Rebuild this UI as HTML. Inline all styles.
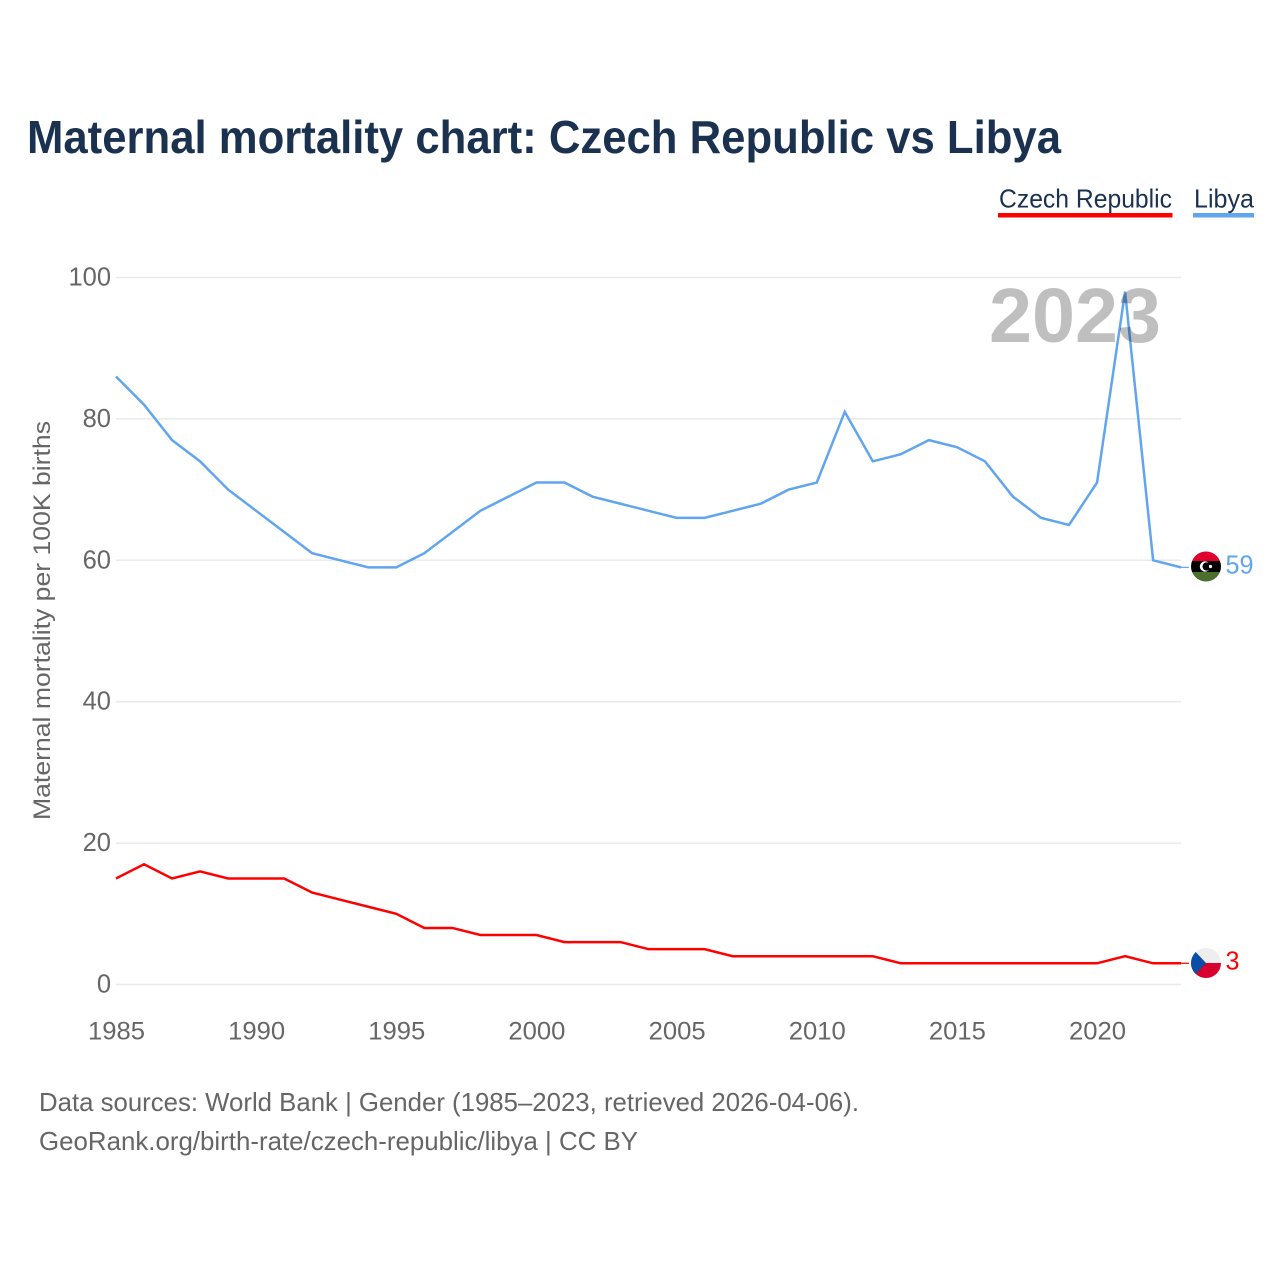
<!DOCTYPE html>
<html lang="en">
<head>
<meta charset="utf-8">
<title>Maternal mortality chart: Czech Republic vs Libya</title>
<style>
html,body{margin:0;padding:0;background:#fff;width:1280px;height:1280px;overflow:hidden}
svg{display:block;font-family:"Liberation Sans",sans-serif}
</style>
</head>
<body>
<svg id="chart" width="1280" height="1280" viewBox="0 0 1280 1280" xmlns="http://www.w3.org/2000/svg">
  <rect width="1280" height="1280" fill="#fff"/>
  <text x="27" y="153" font-size="46" font-weight="700" fill="#1a3150" textLength="1034" lengthAdjust="spacingAndGlyphs">Maternal mortality chart: Czech Republic vs Libya</text>

  <g>
    <text x="999" y="207.5" font-size="26" fill="#1a3150" textLength="173" lengthAdjust="spacingAndGlyphs">Czech Republic</text>
    <rect x="998" y="213" width="174.5" height="4.5" fill="#ff0000"/>
  </g>
  <g>
    <text x="1194" y="207.5" font-size="26" fill="#1a3150" textLength="60" lengthAdjust="spacingAndGlyphs">Libya</text>
    <rect x="1193" y="213" width="61" height="4.5" fill="#60a5ee"/>
  </g>

  <g id="grid"></g>
  <g id="yticks"></g>
  <g id="xticks"></g>
  <text transform="translate(50,620.5) rotate(-90)" text-anchor="middle" font-size="24.5" fill="#666" textLength="399" lengthAdjust="spacingAndGlyphs">Maternal mortality per 100K births</text>

  <g id="series"></g>

  <text id="year" x="989" y="342" font-size="77" font-weight="700" fill="#000" fill-opacity="0.25" textLength="172" lengthAdjust="spacingAndGlyphs">2023</text>

  <defs>
    <clipPath id="clip-libya"><circle cx="1206" cy="566.5" r="15"/></clipPath>
    <clipPath id="clip-czech"><circle cx="1206" cy="963" r="15"/></clipPath>
  </defs>
  <g clip-path="url(#clip-libya)">
    <rect x="1190" y="551" width="32" height="10" fill="#e0002d"/>
    <rect x="1190" y="561" width="32" height="11" fill="#000"/>
    <rect x="1190" y="572" width="32" height="11" fill="#4b6f2d"/>
    <circle cx="1205" cy="566.5" r="5.2" fill="#fff"/>
    <circle cx="1206.6" cy="566.5" r="4.1" fill="#000"/>
    <circle cx="1210.5" cy="566.5" r="1.6" fill="#fff"/>
  </g>
  <g clip-path="url(#clip-czech)">
    <rect x="1190" y="947" width="32" height="16" fill="#eeeeee"/>
    <rect x="1190" y="963" width="32" height="16" fill="#d7002f"/>
    <polygon points="1191,947 1206,963 1191,979" fill="#0a4ea6"/>
  </g>
  <text id="label-libya" x="1225.5" y="573.5" font-size="26" fill="#60a5ee" textLength="28" lengthAdjust="spacingAndGlyphs">59</text>
  <text id="label-czech" x="1225.5" y="969.5" font-size="26" fill="#ff0000" textLength="14" lengthAdjust="spacingAndGlyphs">3</text>

  <g>
    <text x="39" y="1111" font-size="26" fill="#666" textLength="820" lengthAdjust="spacingAndGlyphs">Data sources: World Bank | Gender (1985–2023, retrieved 2026-04-06).</text>
    <text x="39" y="1150" font-size="26" fill="#666" textLength="599" lengthAdjust="spacingAndGlyphs">GeoRank.org/birth-rate/czech-republic/libya | CC BY</text>
  </g>
</svg>
<script>
const years = [1985,1986,1987,1988,1989,1990,1991,1992,1993,1994,1995,1996,1997,1998,1999,2000,2001,2002,2003,2004,2005,2006,2007,2008,2009,2010,2011,2012,2013,2014,2015,2016,2017,2018,2019,2020,2021,2022,2023];
const libyaValues = [86,82,77,74,70,67,64,61,60,59,59,61,64,67,69,71,71,69,68,67,66,66,67,68,70,71,81,74,75,77,76,74,69,66,65,71,98,60,59];
const czechValues = [15,17,15,16,15,15,15,13,12,11,10,8,8,7,7,7,6,6,6,5,5,5,4,4,4,4,4,4,3,3,3,3,3,3,3,3,4,3,3];
const yTickValues = [0,20,40,60,80,100];
const xTickValues = [1985,1990,1995,2000,2005,2010,2015,2020];

const NS = 'http://www.w3.org/2000/svg';
const xScale = function (year) { return 116 + (year - 1985) * 28.03; };
const yScale = function (value) { return 984.5 - value * 7.07; };

function make(tag, parent, attrs, text) {
  const el = document.createElementNS(NS, tag);
  Object.keys(attrs).forEach(function (k) { el.setAttribute(k, attrs[k]); });
  if (text !== undefined) el.textContent = text;
  parent.appendChild(el);
  return el;
}

const gridGroup = document.getElementById('grid');
const yTickGroup = document.getElementById('yticks');
const xTickGroup = document.getElementById('xticks');
const seriesGroup = document.getElementById('series');

yTickValues.forEach(function (v) {
  const line = make('line', gridGroup, {x1: 116, x2: 1181, y1: yScale(v), y2: yScale(v), stroke: '#e9e9e9', 'stroke-width': 1.5});
  
  
  const label = make('text', yTickGroup, {x: 111, y: yScale(v) + 8, 'text-anchor': 'end', 'font-size': 25.5, fill: '#666'}, String(v));
  
  
});

xTickValues.forEach(function (v) {
  const label = make('text', xTickGroup, {x: xScale(v) + 0.5, y: 1039.5, 'text-anchor': 'middle', 'font-size': 25, fill: '#666', textLength: 57, lengthAdjust: 'spacingAndGlyphs'}, String(v));
  
  
});

function drawSeries(values, color, name) {
  const pts = values.map(function (v, i) { return xScale(years[i]) + ',' + yScale(v); }).join(' ');
  const line = make('polyline', seriesGroup, {points: pts, fill: 'none', stroke: color, 'stroke-width': 2.5, 'stroke-linejoin': 'miter'});
  
  
  const lastY = yScale(values[values.length - 1]);
  const lead = make('line', seriesGroup, {x1: xScale(years[years.length - 1]), x2: 1189, y1: lastY, y2: lastY, stroke: color, 'stroke-width': 1.2});
  
  
}

drawSeries(czechValues, '#ff0000', 'czech-republic-line');
drawSeries(libyaValues, '#60a5ee', 'libya-line');
</script>
</body>
</html>
